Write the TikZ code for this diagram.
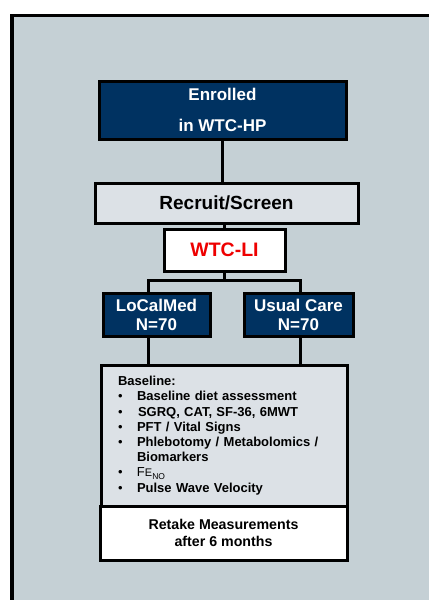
\documentclass[tikz,border=0pt]{standalone}
\usepackage{fontspec}
\setmainfont{Liberation Sans}
\definecolor{panel}{HTML}{C5D0D5}
\definecolor{navy}{HTML}{003261}
\definecolor{pale}{HTML}{DCE1E6}
\definecolor{alert}{HTML}{EE0000}
\tikzset{
  box/.style={draw=black, line width=3pt, inner sep=0pt, font=\bfseries, align=center},
  navybox/.style={box, fill=navy, text=white},
  palebox/.style={box, fill=pale},
  whitebox/.style={box, fill=white},
  link/.style={line width=3pt, black}
}
\begin{document}
\begin{tikzpicture}[x=1pt, y=-1pt]
  \useasboundingbox (0,0) rectangle (429,600);
  % outer panel
  \fill[panel] (12,15.5) rectangle (429,600);
  \draw[line width=3.5pt] (12,600) -- (12,15.5) -- (429,15.5);

  % boxes
  \node[navybox, minimum width=247pt, minimum height=58pt,
        font=\fontsize{17}{31}\selectfont\bfseries] (enr) at (222.5,110)
        {Enrolled\\in WTC-HP};
  \node[palebox, minimum width=263pt, minimum height=40pt,
        font=\fontsize{19}{22}\selectfont\bfseries] (rec) at (226.5,203)
        {Recruit/Screen};
  \node[whitebox, minimum width=121pt, minimum height=42pt, text=alert,
        font=\fontsize{19.5}{22}\selectfont\bfseries] (li) at (224.5,250)
        {WTC-LI};
  \node[navybox, minimum width=107pt, minimum height=43pt,
        font=\fontsize{17}{19}\selectfont\bfseries] (lcm) at (156.5,314.5)
        {LoCalMed\\N=70};
  \node[navybox, minimum width=109pt, minimum height=43pt,
        font=\fontsize{17}{19}\selectfont\bfseries] (uc) at (298.5,314.5)
        {Usual Care\\N=70};
  \node[palebox, minimum width=246pt, minimum height=141pt, text width=212pt,
        align=left, inner xsep=17pt, inner ysep=0pt,
        font=\fontsize{13}{15.2}\selectfont\bfseries] (base) at (224,435.5)
        {Baseline:\\
         \makebox[19pt][l]{\mdseries\textbullet}Baseline diet assessment\\
         \makebox[20pt][l]{\mdseries\textbullet}SGRQ, CAT, SF-36, 6MWT\\
         \makebox[19pt][l]{\mdseries\textbullet}PFT / Vital Signs\\
         \makebox[19pt][l]{\mdseries\textbullet}Phlebotomy / Metabolomics /\\
         \hspace*{19pt}Biomarkers\\
         \makebox[19pt][l]{\mdseries\textbullet}{\mdseries F{\fontsize{11}{13}\selectfont E}\raisebox{-2.5pt}{\fontsize{8.5}{10}\selectfont NO}}\\
         \makebox[19pt][l]{\mdseries\textbullet}Pulse Wave Velocity};
  \node[whitebox, minimum width=247pt, minimum height=54pt,
        font=\fontsize{14.2}{17}\selectfont\bfseries] (ret) at (223.5,533)
        {Retake Measurements\\after 6 months};

  % connectors
  \coordinate (jl) at (148,280);
  \coordinate (jr) at (300,280);
  \draw[link] (enr.south) -- (enr.south |- rec.north);
  \draw[link] (rec.south -| li.south) -- (li.north);
  \draw[link] (li.south) -- (li.south |- jl);
  \draw[link, line cap=rect] (jl) -- (jr);
  \draw[link] (jl) -- (jl |- lcm.north);
  \draw[link] (jr) -- (jr |- uc.north);
  \draw[link] (jl |- lcm.south) -- (jl |- base.north);
  \draw[link] (jr |- uc.south) -- (jr |- base.north);
\end{tikzpicture}
\end{document}
